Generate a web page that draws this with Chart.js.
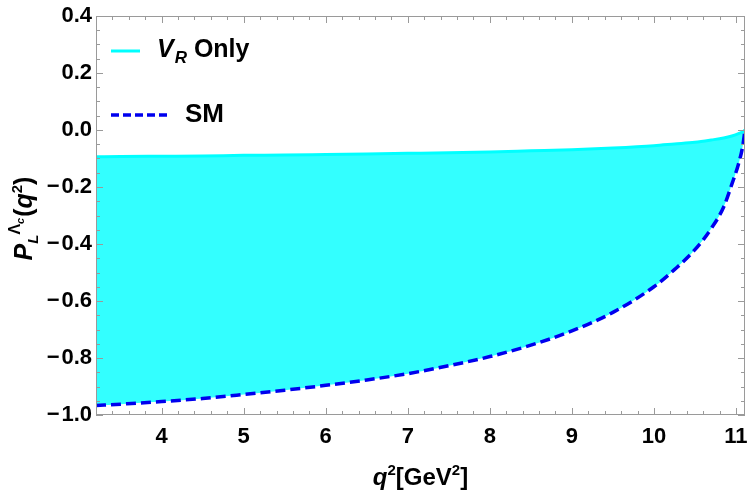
<!DOCTYPE html>
<html>
<head>
<meta charset="utf-8">
<script src="https://cdn.jsdelivr.net/npm/chart.js@4/dist/chart.umd.min.js"></script>
<style>
  html, body { margin: 0; padding: 0; background: #fff; }
</style>
</head>
<body>
<canvas id="polChart" width="750" height="496"></canvas>
<script>
// q^2 grid (GeV^2) and the two curves
const q2 = [3.2, 3.5, 4, 4.5, 5, 5.5, 6, 6.5, 7, 7.5, 8, 8.5, 9, 9.5, 10, 10.25, 10.5, 10.7, 10.85, 10.95, 11.03, 11.08, 11.11];
const smVals = [-0.967, -0.962, -0.953, -0.942, -0.928, -0.913, -0.896, -0.877, -0.855, -0.827, -0.795, -0.755, -0.705, -0.64, -0.55, -0.49, -0.42, -0.345, -0.27, -0.19, -0.12, -0.06, 0];
const vrVals = [-0.094, -0.093, -0.092, -0.091, -0.089, -0.088, -0.086, -0.084, -0.082, -0.080, -0.077, -0.073, -0.069, -0.063, -0.055, -0.049, -0.043, -0.035, -0.028, -0.021, -0.013, -0.006, 0];
const xTicks = [4, 5, 6, 7, 8, 9, 10, 11];
const yTicks = [-1.0, -0.8, -0.6, -0.4, -0.2, 0.0, 0.2, 0.4];

const FONT = "'Liberation Sans', Arial, sans-serif";

// draw a run of text pieces one after another: [text, font, dy, extra gap]
function drawRun(ctx, parts, x, y, align) {
    let w = 0;
    parts.forEach(p => { ctx.font = p[1]; w += ctx.measureText(p[0]).width + (p[3] || 0); });
    let cx = align === 'center' ? x - w / 2 : x;
    parts.forEach(p => {
        ctx.font = p[1];
        ctx.fillText(p[0], cx, y + (p[2] || 0));
        cx += ctx.measureText(p[0]).width + (p[3] || 0);
    });
}

const framePlugin = {
    id: 'frame',
    afterDatasetsDraw(chart) {
        const { ctx, chartArea: a, scales } = chart;
        const sx = scales.x, sy = scales.y;
        ctx.save();
        ctx.strokeStyle = '#9a9a9a';
        ctx.lineWidth = 1;
        ctx.strokeRect(a.left + 0.5, a.top + 0.5, a.right - a.left - 1, a.bottom - a.top - 1);
        ctx.beginPath();
        // x ticks every 0.2, major at integers
        for (let k = 16; k <= 55; k++) {
            const v = k * 0.2;
            const px = Math.round(sx.getPixelForValue(v)) + 0.5;
            const len = (k % 5 === 0) ? 7 : 4;
            ctx.moveTo(px, a.bottom); ctx.lineTo(px, a.bottom - len);
            ctx.moveTo(px, a.top); ctx.lineTo(px, a.top + len);
        }
        // y ticks every 0.05, major every 0.2
        for (let k = -20; k <= 8; k++) {
            const v = k * 0.05;
            const py = Math.round(sy.getPixelForValue(v)) + 0.5;
            const len = (k % 4 === 0) ? 7 : 4;
            ctx.moveTo(a.left, py); ctx.lineTo(a.left + len, py);
            ctx.moveTo(a.right, py); ctx.lineTo(a.right - len, py);
        }
        ctx.stroke();
        ctx.restore();
    },
    afterDraw(chart) {
        const { ctx, chartArea: a } = chart;
        ctx.save();
        ctx.fillStyle = '#000';
        ctx.textBaseline = 'alphabetic';

        // legend
        ctx.strokeStyle = '#00ffff';
        ctx.lineWidth = 3;
        ctx.beginPath(); ctx.moveTo(111, 51); ctx.lineTo(140, 51); ctx.stroke();
        drawRun(ctx, [
            ['V', 'italic bold 25px ' + FONT, 0, 1],
            ['R', 'italic bold 17px ' + FONT, 6],
            [' Only', 'bold 25px ' + FONT, 0]
        ], 157, 57);

        ctx.strokeStyle = '#0000ee';
        ctx.lineWidth = 3.5;
        ctx.setLineDash([8, 4]);
        ctx.beginPath(); ctx.moveTo(111, 115); ctx.lineTo(167, 115); ctx.stroke();
        ctx.setLineDash([]);
        drawRun(ctx, [['SM', 'bold 26px ' + FONT, 0]], 185, 122);

        // x title
        drawRun(ctx, [
            ['q', 'italic bold 24px ' + FONT, 0],
            ['2', 'bold 15px ' + FONT, -10],
            ['[GeV', 'bold 24px ' + FONT, 0],
            ['2', 'bold 15px ' + FONT, -10],
            [']', 'bold 24px ' + FONT, 0]
        ], (a.left + a.right) / 2, 485, 'center');

        // y title, rotated
        ctx.translate(32, (a.top + a.bottom) / 2 + 3);
        ctx.rotate(-Math.PI / 2);
        drawRun(ctx, [
            ['P', 'italic bold 25px ' + FONT, 0],
            ['L', 'italic bold 15px ' + FONT, 6],
            ['Λ', 'bold 16px ' + FONT, -12],
            ['c', 'italic bold 11px ' + FONT, -8, 1],
            ['(', 'bold 25px ' + FONT, 0],
            ['q', 'italic bold 25px ' + FONT, 0],
            ['2', 'bold 15px ' + FONT, -10],
            [')', 'bold 25px ' + FONT, 0]
        ], 0, 0, 'center');
        ctx.restore();
    }
};

new Chart(document.getElementById('polChart'), {
    type: 'line',
    data: {
        datasets: [
            {
                label: 'SM',
                data: q2.map((x, i) => ({ x: x, y: smVals[i] })),
                borderColor: '#0000ee',
                borderWidth: 3.5,
                borderDash: [10, 5],
                pointRadius: 0,
                cubicInterpolationMode: 'monotone',
                fill: false
            },
            {
                label: 'VR Only',
                data: q2.map((x, i) => ({ x: x, y: vrVals[i] })),
                borderColor: '#00ffff',
                borderWidth: 3,
                backgroundColor: 'rgb(51, 255, 255)',
                pointRadius: 0,
                cubicInterpolationMode: 'monotone',
                fill: 0
            }
        ]
    },
    options: {
        responsive: false,
        devicePixelRatio: 1,
        animation: false,
        layout: { padding: { left: 0, right: 5, top: 16, bottom: 0 } },
        plugins: { legend: { display: false }, tooltip: { enabled: false } },
        scales: {
            x: {
                type: 'linear',
                min: 3.2,
                max: 11.11,
                afterBuildTicks: s => { s.ticks = xTicks.map(v => ({ value: v })); },
                afterFit: s => { s.height = 81; s.paddingLeft = 0; s.paddingRight = 0; },
                grid: { display: false, drawTicks: false },
                border: { display: false },
                ticks: {
                    color: '#000',
                    padding: 9,
                    maxRotation: 0,
                    font: { family: FONT, size: 22, weight: 'bold' },
                    callback: v => String(v)
                }
            },
            y: {
                type: 'linear',
                min: -1.0,
                max: 0.4,
                afterBuildTicks: s => { s.ticks = yTicks.map(v => ({ value: v })); },
                afterFit: s => { s.width = 96; s.paddingTop = 0; s.paddingBottom = 0; },
                grid: { display: false, drawTicks: false },
                border: { display: false },
                ticks: {
                    color: '#000',
                    padding: 4,
                    font: { family: FONT, size: 22, weight: 'bold' },
                    callback: v => (v < 0 ? '\u2212\u200A' : '') + Math.abs(v).toFixed(1)
                }
            }
        }
    },
    plugins: [framePlugin]
});
</script>
</body>
</html>
